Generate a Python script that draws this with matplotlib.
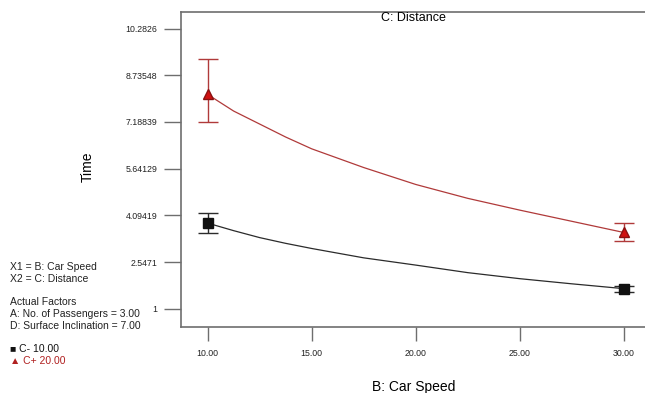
import numpy as np
import matplotlib.pyplot as plt

plt.rcParams['font.family'] = ['Liberation Sans', 'DejaVu Sans']

# curve values
speed = [10, 11.25, 12.5, 13.75, 15, 17.5, 20, 22.5, 25, 27.5, 30]
time_low = [3.84, 3.59, 3.36, 3.17, 3.00, 2.69, 2.45, 2.20, 2.00, 1.83, 1.67]    # C- 10.00
time_high = [8.10, 7.55, 7.12, 6.69, 6.30, 5.68, 5.12, 4.66, 4.27, 3.90, 3.53]   # C+ 20.00

# design points with interval bars
pt_speed = [10, 30]
pt_low = [3.84, 1.67]
pt_low_top = [4.19, 1.76]
pt_low_bot = [3.51, 1.57]
pt_high = [8.10, 3.53]
pt_high_top = [9.26, 3.86]
pt_high_bot = [7.18, 3.26]

yticks = [1, 2.5471, 4.09419, 5.64129, 7.18839, 8.73548, 10.2826]
ytick_labels = ["1", "2.5471", "4.09419", "5.64129", "7.18839", "8.73548", "10.2826"]
xticks = [10, 15, 20, 25, 30]
xtick_labels = ["10.00", "15.00", "20.00", "25.00", "30.00"]

black = "#2b2b2b"
red_line = "#b03a3a"
red_fill = "#d01010"
gray = "#6e6e6e"

fig = plt.figure(figsize=(6.45, 3.93), dpi=100)
ax = fig.add_axes([181/645, 66/393, 469/645, 315/393])

ax.plot(speed, time_low, color=black, lw=0.9)
ax.plot(speed, time_high, color=red_line, lw=0.9)

low_err = [np.array(pt_low) - np.array(pt_low_bot), np.array(pt_low_top) - np.array(pt_low)]
high_err = [np.array(pt_high) - np.array(pt_high_bot), np.array(pt_high_top) - np.array(pt_high)]
ax.errorbar(pt_speed, pt_low, yerr=low_err, fmt='s', color="#111111", ecolor=black,
            ms=6.5, capsize=7, elinewidth=1, capthick=1, mec="#111111")
ax.errorbar(pt_speed, pt_high, yerr=high_err, fmt='^', color=red_fill, ecolor=red_line,
            ms=7, capsize=7, elinewidth=1, capthick=1, mec="#8a1010")

ax.set_xlim(8.72, 31.26)
ax.set_ylim(0.40, 10.83)
ax.set_yticks(yticks)
ax.set_yticklabels(ytick_labels)
ax.set_xticks(xticks)
ax.set_xticklabels(xtick_labels)
ax.tick_params(axis='y', direction='out', length=12, width=1, color=gray,
               labelsize=6.3, labelcolor="#222222", pad=5)
ax.tick_params(axis='x', direction='out', length=10, width=1, color=gray,
               labelsize=6.3, labelcolor="#222222", pad=6)
for s in ["left", "bottom", "top"]:
    ax.spines[s].set_color(gray)
    ax.spines[s].set_linewidth(1.2)
ax.spines["right"].set_visible(False)

fig.text(413/645, 1 - 18/393, "C: Distance", ha="center", va="center", fontsize=9)
fig.text(88/645, 1 - 167/393, "Time", ha="center", va="center", rotation=90, fontsize=10)
fig.text(414/645, 1 - 387/393, "B: Car Speed", ha="center", va="center", fontsize=10)

info = [("X1 = B: Car Speed", 267), ("X2 = C: Distance", 279),
        ("Actual Factors", 302), ("A: No. of Passengers = 3.00", 314),
        ("D: Surface Inclination = 7.00", 326)]
for txt, ypx in info:
    fig.text(10/645, 1 - ypx/393, txt, ha="left", va="center", fontsize=7.5, color="#222222")
fig.text(10/645, 1 - 349/393, "\u25a0 C- 10.00", ha="left", va="center", fontsize=7.5, color="#111111")
fig.text(10/645, 1 - 361/393, "\u25b2 C+ 20.00", ha="left", va="center", fontsize=7.5, color="#b02020")

plt.savefig("out.png", dpi=100)
